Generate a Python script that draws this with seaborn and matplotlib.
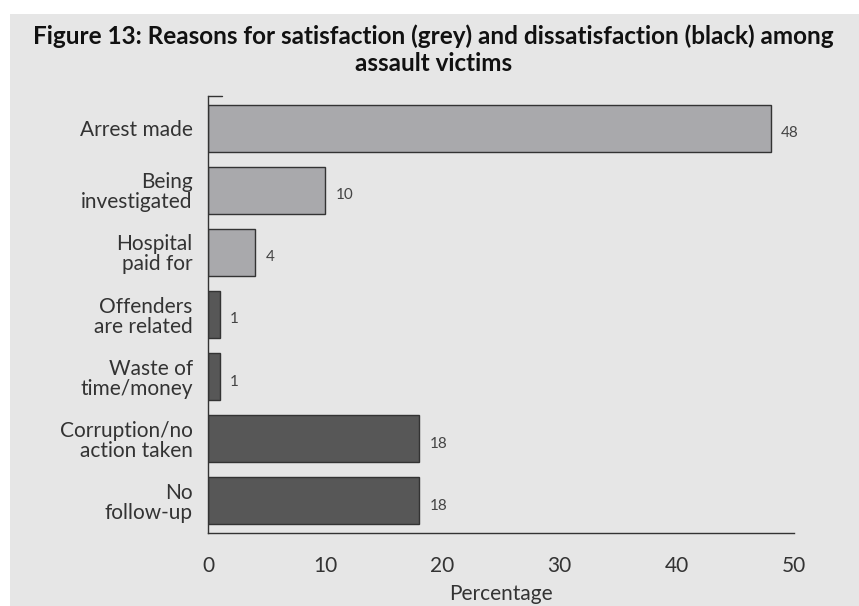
import matplotlib
matplotlib.use("Agg")
import matplotlib.pyplot as plt
import seaborn as sns
import pandas as pd
from matplotlib.patches import Rectangle

# data
categories = ["Arrest made", "Being\ninvestigated", "Hospital\npaid for",
              "Offenders\nare related", "Waste of\ntime/money",
              "Corruption/no\naction taken", "No\nfollow-up"]
values = [48, 10, 4, 1, 1, 18, 18]
kind = ["satisfaction", "satisfaction", "satisfaction",
        "dissatisfaction", "dissatisfaction", "dissatisfaction", "dissatisfaction"]
ticks = [0, 10, 20, 30, 40, 50]

df = pd.DataFrame({"reason": categories, "pct": values, "kind": kind})

sns.set_style("white")
plt.rcParams["font.family"] = ["Lato", "DejaVu Sans"]

fig = plt.figure(figsize=(8.59, 6.06), dpi=100, facecolor="white")
# grey panel behind everything
fig.patches.append(Rectangle((10 / 859, 0), 1, 1 - 14 / 606, transform=fig.transFigure,
                             facecolor="#e6e6e6", edgecolor="none", zorder=-5))
ax = fig.add_axes([208 / 859, 1 - 533 / 606, (794 - 208) / 859, (533 - 96) / 606])
ax.set_facecolor("none")

sns.barplot(data=df, x="pct", y="reason", hue="kind", dodge=False, width=0.76,
            palette={"satisfaction": "#a9a9ac", "dissatisfaction": "#575757"},
            edgecolor="#333333", linewidth=1.0, legend=False, ax=ax)

for i, v in enumerate(values):
    ax.text(v + 0.9, i + 0.08, str(v), va="center", ha="left",
            fontsize=11, color="#444444")

ax.set_xlim(0, 50)
ax.set_ylim(6.52, -0.52)
ax.set_xticks(ticks)
ax.set_xticklabels([str(t) for t in ticks], fontsize=15, color="#333333")
ax.tick_params(axis="x", direction="inout", length=7, width=1, color="#333333", pad=13)
ax.tick_params(axis="y", length=0, pad=11, labelsize=15, labelcolor="#333333")
for lab in ax.get_yticklabels():
    lab.set_multialignment("right")
    lab.set_linespacing(1.0)
ax.set_xlabel("Percentage", fontsize=15, color="#333333", labelpad=6)
ax.set_ylabel("")

sns.despine(ax=ax, top=True, right=True)
for s in ("left", "bottom"):
    ax.spines[s].set_color("#333333")
    ax.spines[s].set_linewidth(1.0)
# small cap at top of the value axis
ax.plot([0, 1.2], [1, 1], transform=ax.get_xaxis_transform(), color="#333333",
        lw=1.0, clip_on=False)

fig.text(0.505, 1 - 50 / 606,
         "Figure 13: Reasons for satisfaction (grey) and dissatisfaction (black) among\nassault victims",
         ha="center", va="center", fontsize=17.5, fontweight="bold", color="#111111",
         linespacing=1.2)

fig.savefig("out.png", dpi=100, facecolor="white")
